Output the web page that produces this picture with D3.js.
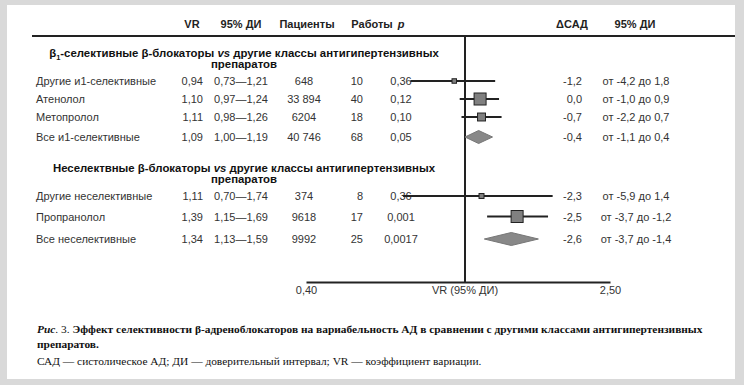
<!DOCTYPE html>
<html>
<head>
<meta charset="utf-8">
<script src="https://cdn.jsdelivr.net/npm/d3@7"></script>
<style>
  body { margin: 0; background: #d9d9d9; }
  svg { display: block; font-family: "Liberation Sans", Arial, sans-serif; }
</style>
</head>
<body>
<svg id="chart" width="744" height="385"></svg>
<script>
// Data
const labels = ["Другие и1-селективные", "Атенолол", "Метопролол", "Все и1-селективные",
  "Другие неселективные", "Пропранолол", "Все неселективные"];
const groupOf = [0, 0, 0, 0, 1, 1, 1];
const pooled = [false, false, false, true, false, false, true];
const vr = [0.94, 1.10, 1.11, 1.09, 1.11, 1.39, 1.34];
const vrLow = [0.73, 0.97, 0.98, 1.00, 0.70, 1.15, 1.13];
const vrHigh = [1.21, 1.24, 1.26, 1.19, 1.74, 1.69, 1.59];
const patients = [648, 33894, 6204, 40746, 374, 9618, 9992];
const studies = [10, 40, 18, 68, 8, 17, 25];
const pValues = [0.36, 0.12, 0.10, 0.05, 0.36, 0.001, 0.0017];
const weights = [9, 64, 28, null, 11, 64, null];
const dSad = [-1.2, 0.0, -0.7, -0.4, -2.3, -2.5, -2.6];
const sadLow = [-4.2, -1.0, -2.2, -1.1, -5.9, -3.7, -3.7];
const sadHigh = [1.8, 0.9, 0.7, 0.4, 1.4, -1.2, -1.4];
const axisTicks = [0.40, 2.50];
const headers = ["VR", "95% ДИ", "Пациенты", "Работы", "p", "ΔСАД", "95% ДИ"];

const svg = d3.select("#chart");
const W = 744, H = 385;

// frame
svg.append("rect").attr("width", W).attr("height", H).attr("fill", "#d9d9d9");
svg.append("rect").attr("x", 7).attr("y", 5).attr("width", 728).attr("height", 374).attr("fill", "#fff");

const comma = s => String(s).replace(".", ",");
const fmtN = n => n >= 10000 ? d3.format(",")(n).replace(",", " ") : String(n);
const fmtP = p => comma(p >= 0.01 ? p.toFixed(2) : String(p));
const fmt1 = v => comma(v.toFixed(1));
const fmt2 = v => comma(v.toFixed(2));

// row positions
const rowY = [];
let gi = -1, y = 0, k = 0;
const groupTop = [81, 196];
const headY = [];
labels.forEach((l, i) => {
  if (groupOf[i] !== gi) {
    gi = groupOf[i];
    y = groupTop[gi];
    k = 0;
    headY.push(y - 28);
  }
  rowY.push(y + k * (gi === 0 ? 18 : 20.5) + (pooled[i] ? 2 : 0));
  k++;
});

// scales
const x = d3.scaleLog().domain([0.4, 1, 2.5]).range([306, 465, 610]);
const side = d3.scaleSqrt().domain([0, 100]).range([0, 15]);
const axisY = 282;

// header
const headX = [192, 241, 307, 372, 401, 572, 635];
svg.append("g").selectAll("text").data(headers).join("text")
  .attr("x", (d, i) => headX[i]).attr("y", 28)
  .attr("text-anchor", "middle")
  .attr("font-size", 11).attr("font-weight", "bold").attr("fill", "#222")
  .attr("font-style", d => d === "p" ? "italic" : null)
  .text(d => d);

svg.append("line").attr("x1", 32).attr("x2", 735).attr("y1", 36).attr("y2", 36)
  .attr("stroke", "#222").attr("stroke-width", 2);

// group headings
const heads = svg.append("g").attr("font-weight", "bold").attr("font-size", 11.4)
  .attr("fill", "#111").attr("text-anchor", "middle");
[0, 1].forEach(g => {
  const t = heads.append("text").attr("x", 244).attr("y", headY[g] + 4);
  if (g === 0) {
    t.append("tspan").text("β");
    t.append("tspan").attr("font-size", 7.5).attr("dy", 3).text("1");
    t.append("tspan").attr("dy", -3).text("-селективные β-блокаторы ");
  } else {
    t.append("tspan").text("Неселектвные β-блокаторы ");
  }
  t.append("tspan").attr("font-style", "italic").text("vs");
  t.append("tspan").text(" другие классы антигипертензивных");
  heads.append("text").attr("x", 244).attr("y", headY[g] + 15).text("препаратов");
});

// table text
const cols = [
  { x: 36, anchor: "start", f: i => labels[i] },
  { x: 203, anchor: "end", f: i => fmt2(vr[i]) },
  { x: 241, anchor: "middle", f: i => fmt2(vrLow[i]) + "—" + fmt2(vrHigh[i]) },
  { x: 304, anchor: "middle", f: i => fmtN(patients[i]) },
  { x: 363, anchor: "end", f: i => String(studies[i]) },
  { x: 401, anchor: "middle", f: i => fmtP(pValues[i]) },
  { x: 582, anchor: "end", f: i => fmt1(dSad[i]) },
  { x: 636, anchor: "middle", f: i => "от " + fmt1(sadLow[i]) + " до " + fmt1(sadHigh[i]) }
];
const tbl = svg.append("g").attr("font-size", 11).attr("fill", "#333");
cols.forEach(c => {
  tbl.append("g").selectAll("text").data(labels.map((d, i) => i)).join("text")
    .attr("x", c.x).attr("y", i => rowY[i] + 4)
    .attr("text-anchor", c.anchor)
    .text(c.f);
});

// reference line at VR = 1
svg.append("line").attr("x1", x(1)).attr("x2", x(1)).attr("y1", 36).attr("y2", axisY)
  .attr("stroke", "#222").attr("stroke-width", 2);

// whiskers and squares
const idx = labels.map((d, i) => i);
const studyIdx = idx.filter(i => !pooled[i]);
const pooledIdx = idx.filter(i => pooled[i]);

svg.append("g").selectAll("line").data(studyIdx).join("line")
  .attr("x1", i => x(vrLow[i])).attr("x2", i => x(vrHigh[i]))
  .attr("y1", i => rowY[i]).attr("y2", i => rowY[i])
  .attr("stroke", "#222").attr("stroke-width", 2);

svg.append("g").selectAll("rect").data(studyIdx).join("rect")
  .attr("x", i => x(vr[i]) - side(weights[i]) / 2)
  .attr("y", i => rowY[i] - side(weights[i]) / 2)
  .attr("width", i => side(weights[i])).attr("height", i => side(weights[i]))
  .attr("fill", "#808080").attr("stroke", "#222").attr("stroke-width", 1);

svg.append("g").selectAll("path").data(pooledIdx).join("path")
  .attr("d", i => {
    const yy = rowY[i], h = 6.5;
    return `M${x(vrLow[i])},${yy}L${x(vr[i])},${yy - h}L${x(vrHigh[i])},${yy}L${x(vr[i])},${yy + h}Z`;
  })
  .attr("fill", "#888").attr("stroke", "#777").attr("stroke-width", 1);

// axis
const ax = svg.append("g").attr("transform", `translate(0,${axisY})`)
  .call(d3.axisBottom(x).tickValues(axisTicks).tickSize(0).tickPadding(4).tickFormat(fmt2));
ax.select(".domain").attr("stroke", "#222").attr("stroke-width", 2);
ax.selectAll("text").attr("font-size", 11).attr("fill", "#333").attr("font-family", null);
svg.append("text").attr("x", x(1)).attr("y", axisY + 12).attr("text-anchor", "middle")
  .attr("font-size", 11).attr("fill", "#333").text("VR (95% ДИ)");

// caption
const cap = svg.append("g").attr("font-family", "'Liberation Serif', 'Times New Roman', serif")
  .attr("fill", "#111").attr("font-size", 11.4);
const c1 = cap.append("text").attr("x", 37).attr("y", 333).attr("font-weight", "bold");
c1.append("tspan").attr("font-style", "italic").text("Рис");
c1.append("tspan").attr("font-weight", "normal").text(". 3. ");
c1.append("tspan").text("Эффект селективности β-адреноблокаторов на  вариабельность АД в сравнении с другими классами антигипертензивных");
cap.append("text").attr("x", 37).attr("y", 348).attr("font-weight", "bold").text("препаратов.");
cap.append("text").attr("x", 37).attr("y", 365)
  .text("САД — систолическое АД; ДИ — доверительный интервал; VR — коэффициент вариации.");
</script>
</body>
</html>
